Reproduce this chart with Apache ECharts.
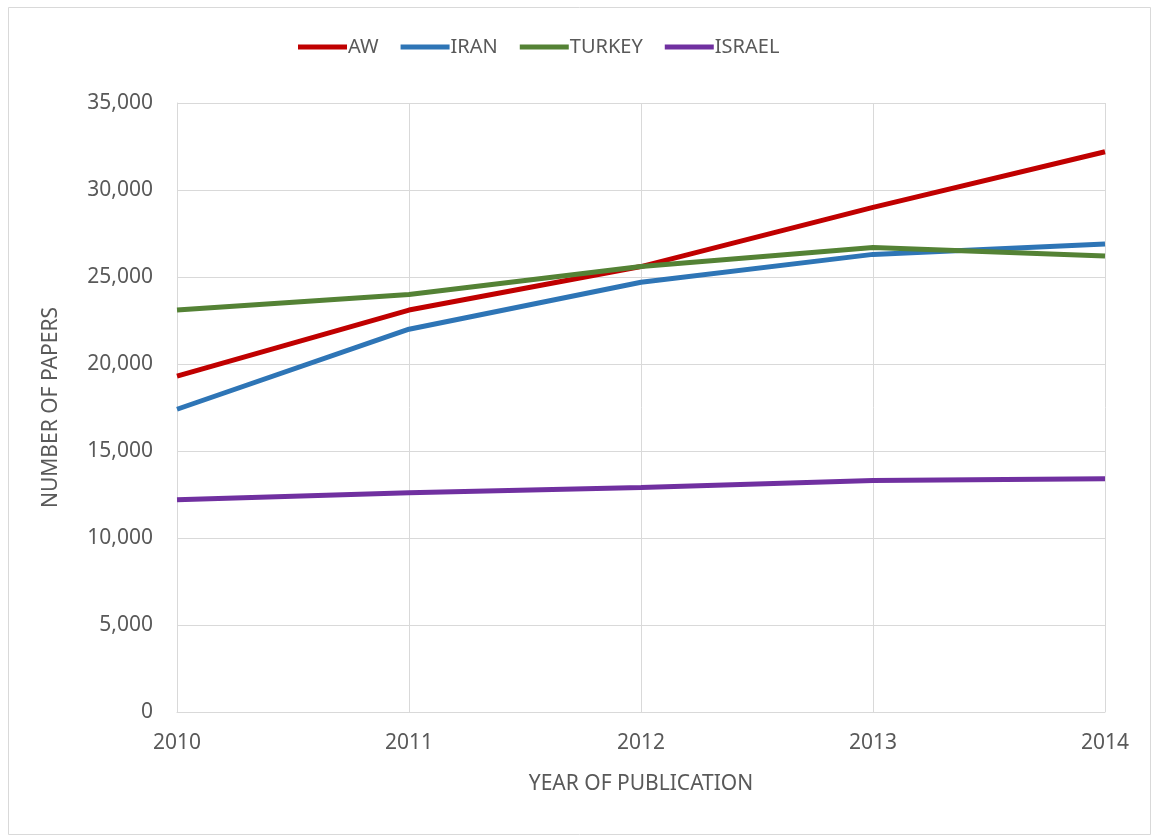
<!DOCTYPE html>
<html>
<head>
<meta charset="utf-8">
<script src="https://cdn.jsdelivr.net/npm/echarts@6/dist/echarts.min.js"></script>
<style>
html,body{margin:0;padding:0;background:#fff;}
#chart{width:1158px;height:838px;}
</style>
</head>
<body>
<div id="chart"></div>
<script>
const years = ['2010', '2011', '2012', '2013', '2014'];
const aw = [19300, 23100, 25600, 29000, 32200];
const iran = [17400, 22000, 24700, 26300, 26900];
const turkey = [23100, 24000, 25600, 26700, 26200];
const israel = [12200, 12600, 12900, 13300, 13400];
const seriesNames = ['AW', 'IRAN', 'TURKEY', 'ISRAEL'];
const seriesColors = ['#c00000', '#2e75b6', '#548235', '#7030a0'];

const font = '"Noto Sans", "Open Sans", sans-serif';
const textColor = '#595959';
const gridColor = '#d9d9d9';

const chart = echarts.init(document.getElementById('chart'), null, {renderer: 'canvas'});
const datasets = [aw, iran, turkey, israel];

chart.setOption({
  backgroundColor: '#ffffff',
  animation: false,
  graphic: [{
    type: 'rect',
    shape: {x: 8.5, y: 7.5, width: 1142, height: 827},
    style: {fill: 'none', stroke: '#d9d9d9', lineWidth: 1}
  }],
  legend: {
    top: 32,
    left: 293,
    icon: 'rect',
    itemWidth: 49,
    itemHeight: 5,
    itemGap: 22,
    textStyle: {fontFamily: font, fontSize: 20, color: textColor, padding: [0, 0, 0, -4]},
    data: seriesNames
  },
  grid: {left: 177, right: 53, top: 103, bottom: 126, containLabel: false},
  xAxis: {
    type: 'category',
    data: years,
    boundaryGap: false,
    name: 'YEAR OF PUBLICATION',
    nameLocation: 'middle',
    nameGap: 62,
    nameTextStyle: {fontFamily: font, fontSize: 21, color: textColor},
    axisLine: {show: true, lineStyle: {color: gridColor, width: 1}},
    axisTick: {show: false},
    axisLabel: {fontFamily: font, fontSize: 21, color: textColor, margin: 21},
    splitLine: {show: true, lineStyle: {color: gridColor, width: 1}}
  },
  yAxis: {
    type: 'value',
    min: 0,
    max: 35000,
    interval: 5000,
    name: 'NUMBER OF PAPERS',
    nameLocation: 'middle',
    nameGap: 115,
    nameTextStyle: {fontFamily: font, fontSize: 21, color: textColor},
    axisLine: {show: true, lineStyle: {color: gridColor, width: 1}},
    axisTick: {show: false},
    axisLabel: {
      fontFamily: font, fontSize: 21, color: textColor, margin: 24,
      formatter: v => v.toLocaleString('en-US')
    },
    splitLine: {show: true, lineStyle: {color: gridColor, width: 1}}
  },
  series: seriesNames.map((n, i) => ({
    name: n,
    type: 'line',
    data: datasets[i],
    symbol: 'none',
    color: seriesColors[i],
    lineStyle: {width: 5, color: seriesColors[i]}
  }))
});
</script>
</body>
</html>
